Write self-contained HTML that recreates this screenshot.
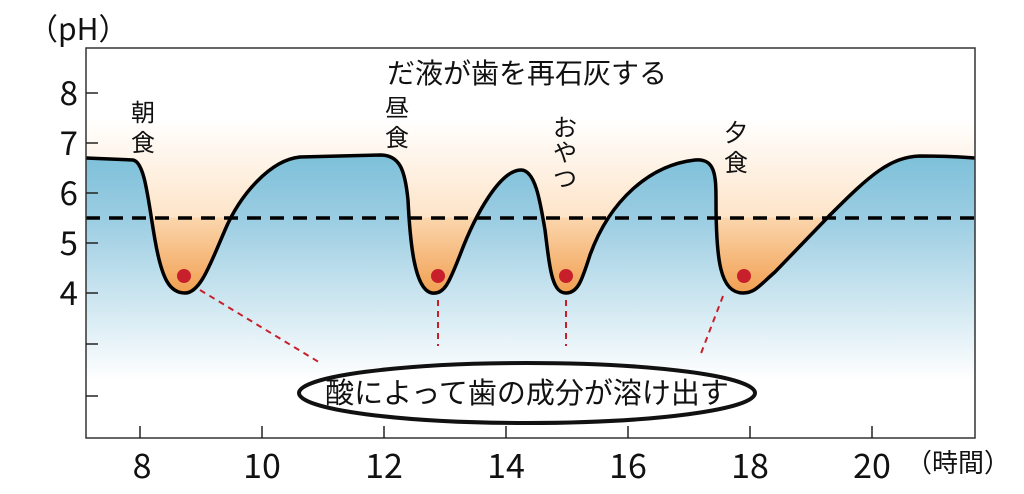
<!DOCTYPE html>
<html><head><meta charset="utf-8"><style>
html,body{margin:0;padding:0;background:#fff;}
text{font-family:"Liberation Sans","Noto Sans CJK JP",sans-serif;fill:#111;}
.n{font-family:"Noto Sans CJK JP","Liberation Sans",sans-serif;}
</style></head><body>
<svg width="1024" height="489" viewBox="0 0 1024 489" xmlns="http://www.w3.org/2000/svg">
<defs>
<linearGradient id="bg" gradientUnits="userSpaceOnUse" x1="0" y1="120" x2="0" y2="300">
<stop offset="0" stop-color="#ffffff"/>
<stop offset="0.54" stop-color="#fde4c8"/>
<stop offset="0.545" stop-color="#fbd6ad"/>
<stop offset="1" stop-color="#f09a48"/>
</linearGradient>
<linearGradient id="bl" gradientUnits="userSpaceOnUse" x1="0" y1="150" x2="0" y2="380">
<stop offset="0" stop-color="#7bbfd9"/>
<stop offset="0.3" stop-color="#9bcde2"/>
<stop offset="1" stop-color="#ffffff"/>
</linearGradient>
</defs>
<rect x="86" y="48" width="889" height="390" fill="#fff"/>
<rect x="86" y="120" width="889" height="180" fill="url(#bg)"/>
<path d="M86,158 L133,160 C145,162 148,200 155,240 C162,280 170,293 185,293 C200,293 210,265 225,230 C240,195 270,160 300,157 L380,155 C400,155 405,170 408,200 C410,240 414,290 432,293 C445,295 450,280 460,255 C475,215 500,170 521,170 C535,170 540,200 545,230 C550,270 552,293 566,293 C578,293 582,280 590,255 C610,200 650,165 695,160 C715,158 716,175 716,200 C716,260 720,293 743,293 C755,293 760,285 775,272 L830,215 C870,175 890,157 920,156 C950,156 960,157 975,158 V438 H86 Z" fill="url(#bl)"/>
<path d="M86,158 L133,160 C145,162 148,200 155,240 C162,280 170,293 185,293 C200,293 210,265 225,230 C240,195 270,160 300,157 L380,155 C400,155 405,170 408,200 C410,240 414,290 432,293 C445,295 450,280 460,255 C475,215 500,170 521,170 C535,170 540,200 545,230 C550,270 552,293 566,293 C578,293 582,280 590,255 C610,200 650,165 695,160 C715,158 716,175 716,200 C716,260 720,293 743,293 C755,293 760,285 775,272 L830,215 C870,175 890,157 920,156 C950,156 960,157 975,158" fill="none" stroke="#000" stroke-width="3.5"/>
<line x1="86" y1="218" x2="975" y2="218" stroke="#000" stroke-width="3.5" stroke-dasharray="14,9"/>
<rect x="86" y="48" width="889" height="390" fill="none" stroke="#333" stroke-width="1.5"/>
<g stroke="#222" stroke-width="1.5">
<line x1="86" y1="93" x2="98" y2="93"/><line x1="86" y1="143" x2="98" y2="143"/><line x1="86" y1="193" x2="98" y2="193"/><line x1="86" y1="243" x2="98" y2="243"/><line x1="86" y1="293" x2="98" y2="293"/><line x1="86" y1="344" x2="98" y2="344"/><line x1="86" y1="396" x2="98" y2="396"/>
<line x1="140" y1="426" x2="140" y2="438"/><line x1="262" y1="426" x2="262" y2="438"/><line x1="384" y1="426" x2="384" y2="438"/><line x1="506" y1="426" x2="506" y2="438"/><line x1="628" y1="426" x2="628" y2="438"/><line x1="750" y1="426" x2="750" y2="438"/><line x1="872" y1="426" x2="872" y2="438"/>
</g>
<g stroke="#c8202a" stroke-width="2" stroke-dasharray="6,5" fill="none">
<line x1="200" y1="290" x2="322" y2="364"/><line x1="438" y1="300" x2="438" y2="346"/><line x1="566" y1="300" x2="566" y2="346"/><line x1="723" y1="296" x2="700" y2="356"/>
</g>
<g fill="#c8202a"><circle cx="184" cy="276" r="7"/><circle cx="438" cy="276" r="7"/><circle cx="566" cy="276" r="7"/><circle cx="744" cy="276" r="7"/></g>
<ellipse cx="527" cy="393" rx="228" ry="30" fill="#fff" stroke="#111" stroke-width="4"/>
<text x="527" y="403" font-size="29" text-anchor="middle">酸によって歯の成分が溶け出す</text>
<text x="527" y="83" font-size="28" text-anchor="middle">だ液が歯を再石灰する</text>
<g font-size="24" text-anchor="middle">
<text x="143" y="121">朝</text><text x="143" y="151">食</text>
<text x="397" y="116">昼</text><text x="397" y="146">食</text>
<text x="565" y="136">お</text><text x="565" y="161">や</text><text x="565" y="187">つ</text>
<text x="736" y="141">夕</text><text x="736" y="171">食</text>
</g>
<g font-size="33" text-anchor="end" class="n">
<text class="n" x="78" y="105">8</text><text class="n" x="78" y="155">7</text><text class="n" x="78" y="205">6</text><text class="n" x="78" y="255">5</text><text class="n" x="78" y="305">4</text>
</g>
<g font-size="34" text-anchor="middle">
<text class="n" x="142" y="478">8</text><text class="n" x="262" y="478">10</text><text class="n" x="384" y="478">12</text><text class="n" x="506" y="478">14</text><text class="n" x="628" y="478">16</text><text class="n" x="750" y="478">18</text><text class="n" x="872" y="478">20</text>
</g>
<text x="906" y="472" font-size="26">（時間）</text>
<text class="n" x="28" y="40" font-size="30">（pH）</text>
</svg>
</body></html>
